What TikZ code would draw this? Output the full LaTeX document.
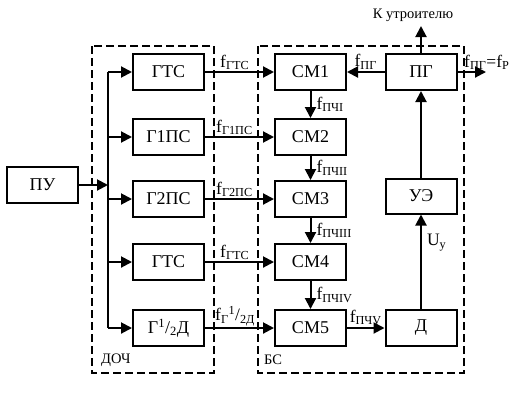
\documentclass[tikz,border=0pt]{standalone}
\usepackage{fontspec}
\setmainfont{Liberation Serif}
\usetikzlibrary{arrows.meta}

\tikzset{
  block/.style={draw, line width=2pt, minimum width=71pt, minimum height=36pt,
                inner sep=0pt, font=\fontsize{18}{21}\selectfont},
  arr/.style={line width=2pt, -{Triangle[length=11pt,width=11pt]}},
  flabel/.style={inner sep=1pt, font=\fontsize{17.5}{20}\selectfont},
  small/.style={inner sep=1pt, font=\fontsize{14.5}{17}\selectfont},
  group/.style={line width=2pt, dash pattern=on 8pt off 4pt}
}

\begin{document}
\begin{tikzpicture}[x=1pt,y=-1pt]
  \useasboundingbox (0,0) rectangle (516,416);

  %draw dashed groups
  \draw[group] (92,46) rectangle (214,373);
  \draw[group] (258,46) rectangle (464,373);
  \node[small, anchor=west] (doch) at (100,360) {ДОЧ};
  \node[small, anchor=west] (bs) at (263,360) {БС};

  %draw blocks
  \node[block] (pu) at (42.5,185) {ПУ};

  \node[block] (g1) at (168.5,72) {ГТС};
  \node[block] (g2) at (168.5,137) {Г1ПС};
  \node[block] (g3) at (168.5,199) {Г2ПС};
  \node[block] (g4) at (168.5,262) {ГТС};
  \node[block] (g5) at (168.5,328) {Г\textsuperscript{1}/\textsubscript{2}Д};

  \node[block] (cm1) at (310.5,72) {СМ1};
  \node[block] (cm2) at (310.5,137) {СМ2};
  \node[block] (cm3) at (310.5,199) {СМ3};
  \node[block] (cm4) at (310.5,262) {СМ4};
  \node[block] (cm5) at (310.5,328) {СМ5};

  \node[block] (pg) at (421,72) {ПГ};
  \node[block, minimum height=35pt] (ue) at (421,196) {УЭ};
  \node[block] (d) at (421,328) {Д};

  %draw bus
  \coordinate (bus) at (108,185);
  \draw[line width=2pt] (g1.west -| bus) -- (g5.west -| bus);
  \draw[arr] (pu.east) -- (bus);
  \foreach \g in {g1,g2,g3,g4,g5}
     \draw[arr] (\g.west -| bus) -- (\g.west);

  %draw generator outputs
  \foreach \g/\c in {g1/cm1,g2/cm2,g3/cm3,g4/cm4,g5/cm5}
     \draw[arr] (\g.east) -- (\c.west);
  \node[flabel, anchor=south west] (l1) at (219,71) {f\textsubscript{ГТС}};
  \node[flabel, anchor=south west] (l2) at (215,136) {f\textsubscript{Г1ПС}};
  \node[flabel, anchor=south west] (l3) at (215,198) {f\textsubscript{Г2ПС}};
  \node[flabel, anchor=south west] (l4) at (219,261) {f\textsubscript{ГТС}};
  \node[flabel, anchor=south west] (l5) at (214,327) {f\textsubscript{Г}\textsuperscript{1}/\textsubscript{2Д}};

  %draw mixer chain
  \draw[arr] (cm1) -- (cm2) node[flabel, midway, anchor=west, xshift=4pt] (p1) {f\textsubscript{ПЧI}};
  \draw[arr] (cm2) -- (cm3) node[flabel, midway, anchor=west, xshift=4pt] (p2) {f\textsubscript{ПЧII}};
  \draw[arr] (cm3) -- (cm4) node[flabel, midway, anchor=west, xshift=4pt] (p3) {f\textsubscript{ПЧIII}};
  \draw[arr] (cm4) -- (cm5) node[flabel, midway, anchor=west, xshift=4pt] (p4) {f\textsubscript{ПЧIV}};
  \draw[arr] (cm5) -- (d) node[flabel, midway, anchor=south, yshift=1pt] (p5) {f\textsubscript{ПЧV}};

  %draw feedback
  \draw[arr] (d) -- (ue) node[flabel, pos=0.7, anchor=west, xshift=4pt] (uy) {U\textsubscript{у}};
  \draw[arr] (ue) -- (pg);
  \draw[arr] (pg) -- (cm1) node[flabel, midway, anchor=south, yshift=1pt] (fpg) {f\textsubscript{ПГ}};

  %draw outputs
  \coordinate (out) at (486,72);
  \coordinate (up) at (421,26);
  \draw[arr] (pg) -- (out);
  \draw[arr] (pg) -- (up);
  \node[flabel, anchor=south west] (fp) at (463,71) {f\textsubscript{ПГ}=f\textsubscript{Р}};
  \node[small, anchor=south] (tripler) at (413,23) {К утроителю};
\end{tikzpicture}
\end{document}
